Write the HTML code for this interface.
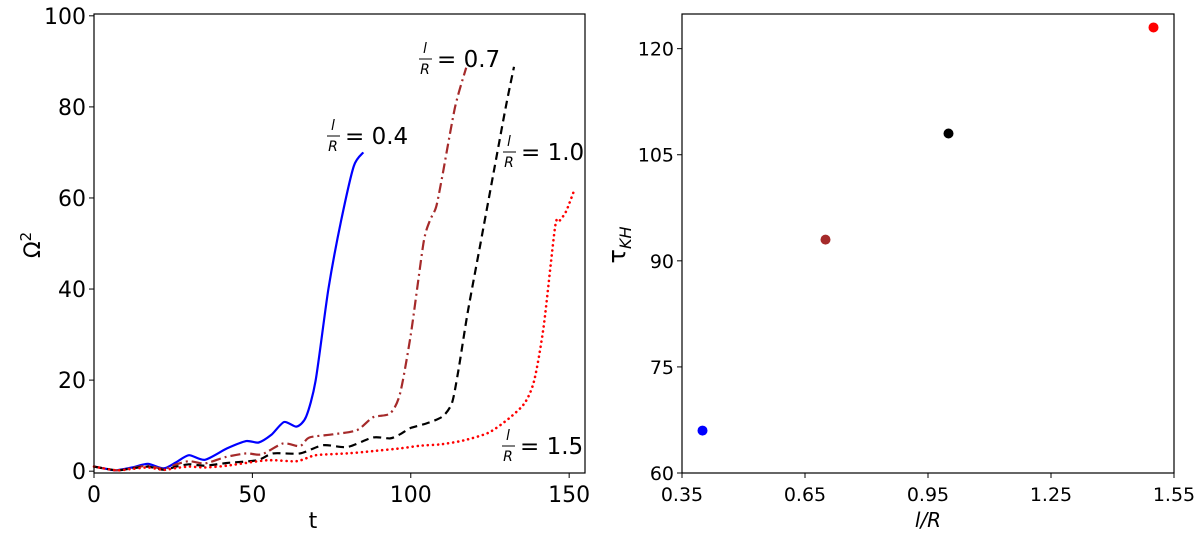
<!DOCTYPE html>
<html><head><meta charset="utf-8"><style>
body{margin:0;background:#fff}
svg{display:block;font-family:"DejaVu Sans","Liberation Sans",sans-serif}
</style></head><body>
<svg id="fig" width="1200" height="538" viewBox="0 0 1200 538" xmlns="http://www.w3.org/2000/svg">
<g id="left"></g>
<g id="right"></g>
</svg>
<script>
// ---- left chart data ----
const blueT = [0,4,7,12,17,22,26,30,35,42,48,52,56,60,64,67,70,74,78,82,85];
const blueV = [1,0.5,0.2,0.8,1.6,0.6,2,3.5,2.5,5,6.6,6.3,8,10.8,9.8,12,20,40,55,67,70];
const brownT = [0,7,12,17,22,26,30,35,41.5,48,53,59.7,65,68,75.5,83,88,93.5,96.6,100,104,106,108,110,114,117.5];
const brownV = [1,0.2,0.7,1.2,0.5,1.5,2.2,1.7,3.1,3.9,3.7,6.1,5.5,7.4,8.1,9,11.8,12.7,17,30,50,55,58,65,80,88.6];
const blackT = [0,7,12,17,22,26,30,35,42,51.5,56.5,65,72.3,80,88,93.5,96.6,100,105,110,113,115,118,122,126,130,132.6];
const blackV = [1,0.2,0.6,1,0.3,1,1.5,1.2,1.8,2.4,3.9,3.9,5.7,5.3,7.4,7.2,8.1,9.5,10.5,12,15,22,35,50,65,80,88.8];
const redT = [0,7,12,17,22,26,30,35,42,54.6,64,70,80,88,96.6,103,109.6,117,124.7,131,136,139,142,145.6,147,149,151.5];
const redV = [1,0.2,0.5,0.8,0.3,0.7,1,0.8,1.2,2.4,2.2,3.5,3.9,4.4,5,5.6,5.9,6.8,8.5,11.6,15,20,32,53.8,55,57,61.5];
const leftXTicks = [0,50,100,150];
const leftYTicks = [0,20,40,60,80,100];
// ---- right chart data ----
const ratioVals = [0.4,0.7,1.0,1.5];
const tauVals = [66,93,108,123];
const pointColors = ['#0000ff','#a52a2a','#000000','#ff0000'];
const rightXTicks = ['0.35','0.65','0.95','1.25','1.55'];
const rightYTicks = [60,75,90,105,120];

const NS='http://www.w3.org/2000/svg';
function mk(parent,tag,attrs){const e=document.createElementNS(NS,tag);for(const k in attrs)e.setAttribute(k,attrs[k]);parent.appendChild(e);return e;}

const L={x0:94,x1:585,y0:473,y1:14,xmin:0,xmax:155,ymin:-0.4,ymax:100.4};
const lx=t=>L.x0+(t-L.xmin)/(L.xmax-L.xmin)*(L.x1-L.x0);
const ly=v=>L.y0-(v-L.ymin)/(L.ymax-L.ymin)*(L.y0-L.y1);
const R={x0:682,x1:1174,y0:473,y1:14,xmin:0.35,xmax:1.55,ymin:60,ymax:124.9};
const rx=v=>R.x0+(v-R.xmin)/(R.xmax-R.xmin)*(R.x1-R.x0);
const ry=v=>R.y0-(v-R.ymin)/(R.ymax-R.ymin)*(R.y0-R.y1);

function smooth(xs,ys){
  const p=xs.map((x,i)=>[x,ys[i]]);let d=`M${p[0][0].toFixed(1)},${p[0][1].toFixed(1)}`;
  const k=8;
  for(let i=0;i<p.length-1;i++){const a=p[i-1]||p[i],b=p[i],c=p[i+1],e=p[i+2]||c;
    const c1=[b[0]+(c[0]-a[0])/k,b[1]+(c[1]-a[1])/k],c2=[c[0]-(e[0]-b[0])/k,c[1]-(e[1]-b[1])/k];
    d+=`C${c1[0].toFixed(1)},${c1[1].toFixed(1)} ${c2[0].toFixed(1)},${c2[1].toFixed(1)} ${c[0].toFixed(1)},${c[1].toFixed(1)}`;}
  return d;}

const gl=document.getElementById('left');
const series=[
 {t:blueT,v:blueV,c:'#0000ff',dash:'',cap:'butt',w:2.2,name:'series-l-r-0.4'},
 {t:brownT,v:brownV,c:'#a52a2a',dash:'10,4,2,4',cap:'butt',w:2.2,name:'series-l-r-0.7'},
 {t:blackT,v:blackV,c:'#000000',dash:'8,5',cap:'butt',w:2.2,name:'series-l-r-1.0'},
 {t:redT,v:redV,c:'#ff0000',dash:'0.1,5',cap:'round',w:2.6,name:'series-l-r-1.5'}];
series.forEach(s=>{
  const p=mk(gl,'path',{d:smooth(s.t.map(lx),s.v.map(ly)),fill:'none',stroke:s.c,'stroke-width':s.w,'stroke-dasharray':s.dash,'stroke-linecap':s.cap});
  
  
});
const lf=mk(gl,'rect',{x:L.x0,y:L.y1,width:L.x1-L.x0,height:L.y0-L.y1,fill:'none',stroke:'#000','stroke-width':1.2});


leftXTicks.forEach(t=>{
  mk(gl,'line',{x1:lx(t),x2:lx(t),y1:L.y0,y2:L.y0+5,stroke:'#000'});
  const tx=mk(gl,'text',{x:lx(t),y:L.y0+29,'text-anchor':'middle','font-size':22});tx.textContent=t;
  
  
});
leftYTicks.forEach(v=>{
  mk(gl,'line',{x1:L.x0-5,x2:L.x0,y1:ly(v),y2:ly(v),stroke:'#000'});
  const tx=mk(gl,'text',{x:L.x0-8,y:ly(v)+8,'text-anchor':'end','font-size':22});tx.textContent=v;
  
  
});
let xt=mk(gl,'text',{x:313,y:528,'text-anchor':'middle','font-size':22});xt.textContent='t';


let yt=mk(gl,'text',{x:0,y:0,'text-anchor':'middle','font-size':22,transform:'translate(40,245) rotate(-90)'});yt.innerHTML='Ω<tspan dy="-9" font-size="15">2</tspan>';



function anno(x,y,val,name){
  const g=mk(gl,'g',{});
  
  
  const a=mk(g,'text',{x:x+6,y:y-6,'text-anchor':'middle','font-size':14,'font-style':'italic'});a.textContent='l';
  mk(g,'line',{x1:x,x2:x+13,y1:y,y2:y,stroke:'#000','stroke-width':1});
  const b=mk(g,'text',{x:x+6,y:y+15,'text-anchor':'middle','font-size':14,'font-style':'italic'});b.textContent='R';
  const c=mk(g,'text',{x:x+18,y:y+8,'font-size':23});c.textContent='= '+val;
}
anno(327,136,'0.4','label-l-r-0.4');
anno(419,59,'0.7','label-l-r-0.7');
anno(503,152,'1.0','label-l-r-1.0');
anno(502,446,'1.5','label-l-r-1.5');

const gr=document.getElementById('right');
const rf=mk(gr,'rect',{x:R.x0,y:R.y1,width:R.x1-R.x0,height:R.y0-R.y1,fill:'none',stroke:'#000','stroke-width':1.2});


rightXTicks.forEach(s=>{
  const v=parseFloat(s);
  mk(gr,'line',{x1:rx(v),x2:rx(v),y1:R.y0,y2:R.y0+5,stroke:'#000'});
  const tx=mk(gr,'text',{x:rx(v),y:R.y0+28,'text-anchor':'middle','font-size':19});tx.textContent=s;
  
  
});
rightYTicks.forEach(v=>{
  mk(gr,'line',{x1:R.x0-5,x2:R.x0,y1:ry(v),y2:ry(v),stroke:'#000'});
  const tx=mk(gr,'text',{x:R.x0-8,y:ry(v)+7,'text-anchor':'end','font-size':19});tx.textContent=v;
  
  
});
ratioVals.forEach((r,i)=>{
  const c=mk(gr,'circle',{cx:rx(r),cy:ry(tauVals[i]),r:5,fill:pointColors[i]});
  
  
});
let rxt=mk(gr,'text',{x:928,y:527,'text-anchor':'middle','font-size':20,'font-style':'italic'});rxt.textContent='l/R';


let ryt=mk(gr,'text',{x:0,y:0,'text-anchor':'middle','font-size':24,transform:'translate(625,245) rotate(-90)'});ryt.innerHTML='τ<tspan dy="6" font-size="16" font-style="italic">KH</tspan>';


</script>
</body></html>
